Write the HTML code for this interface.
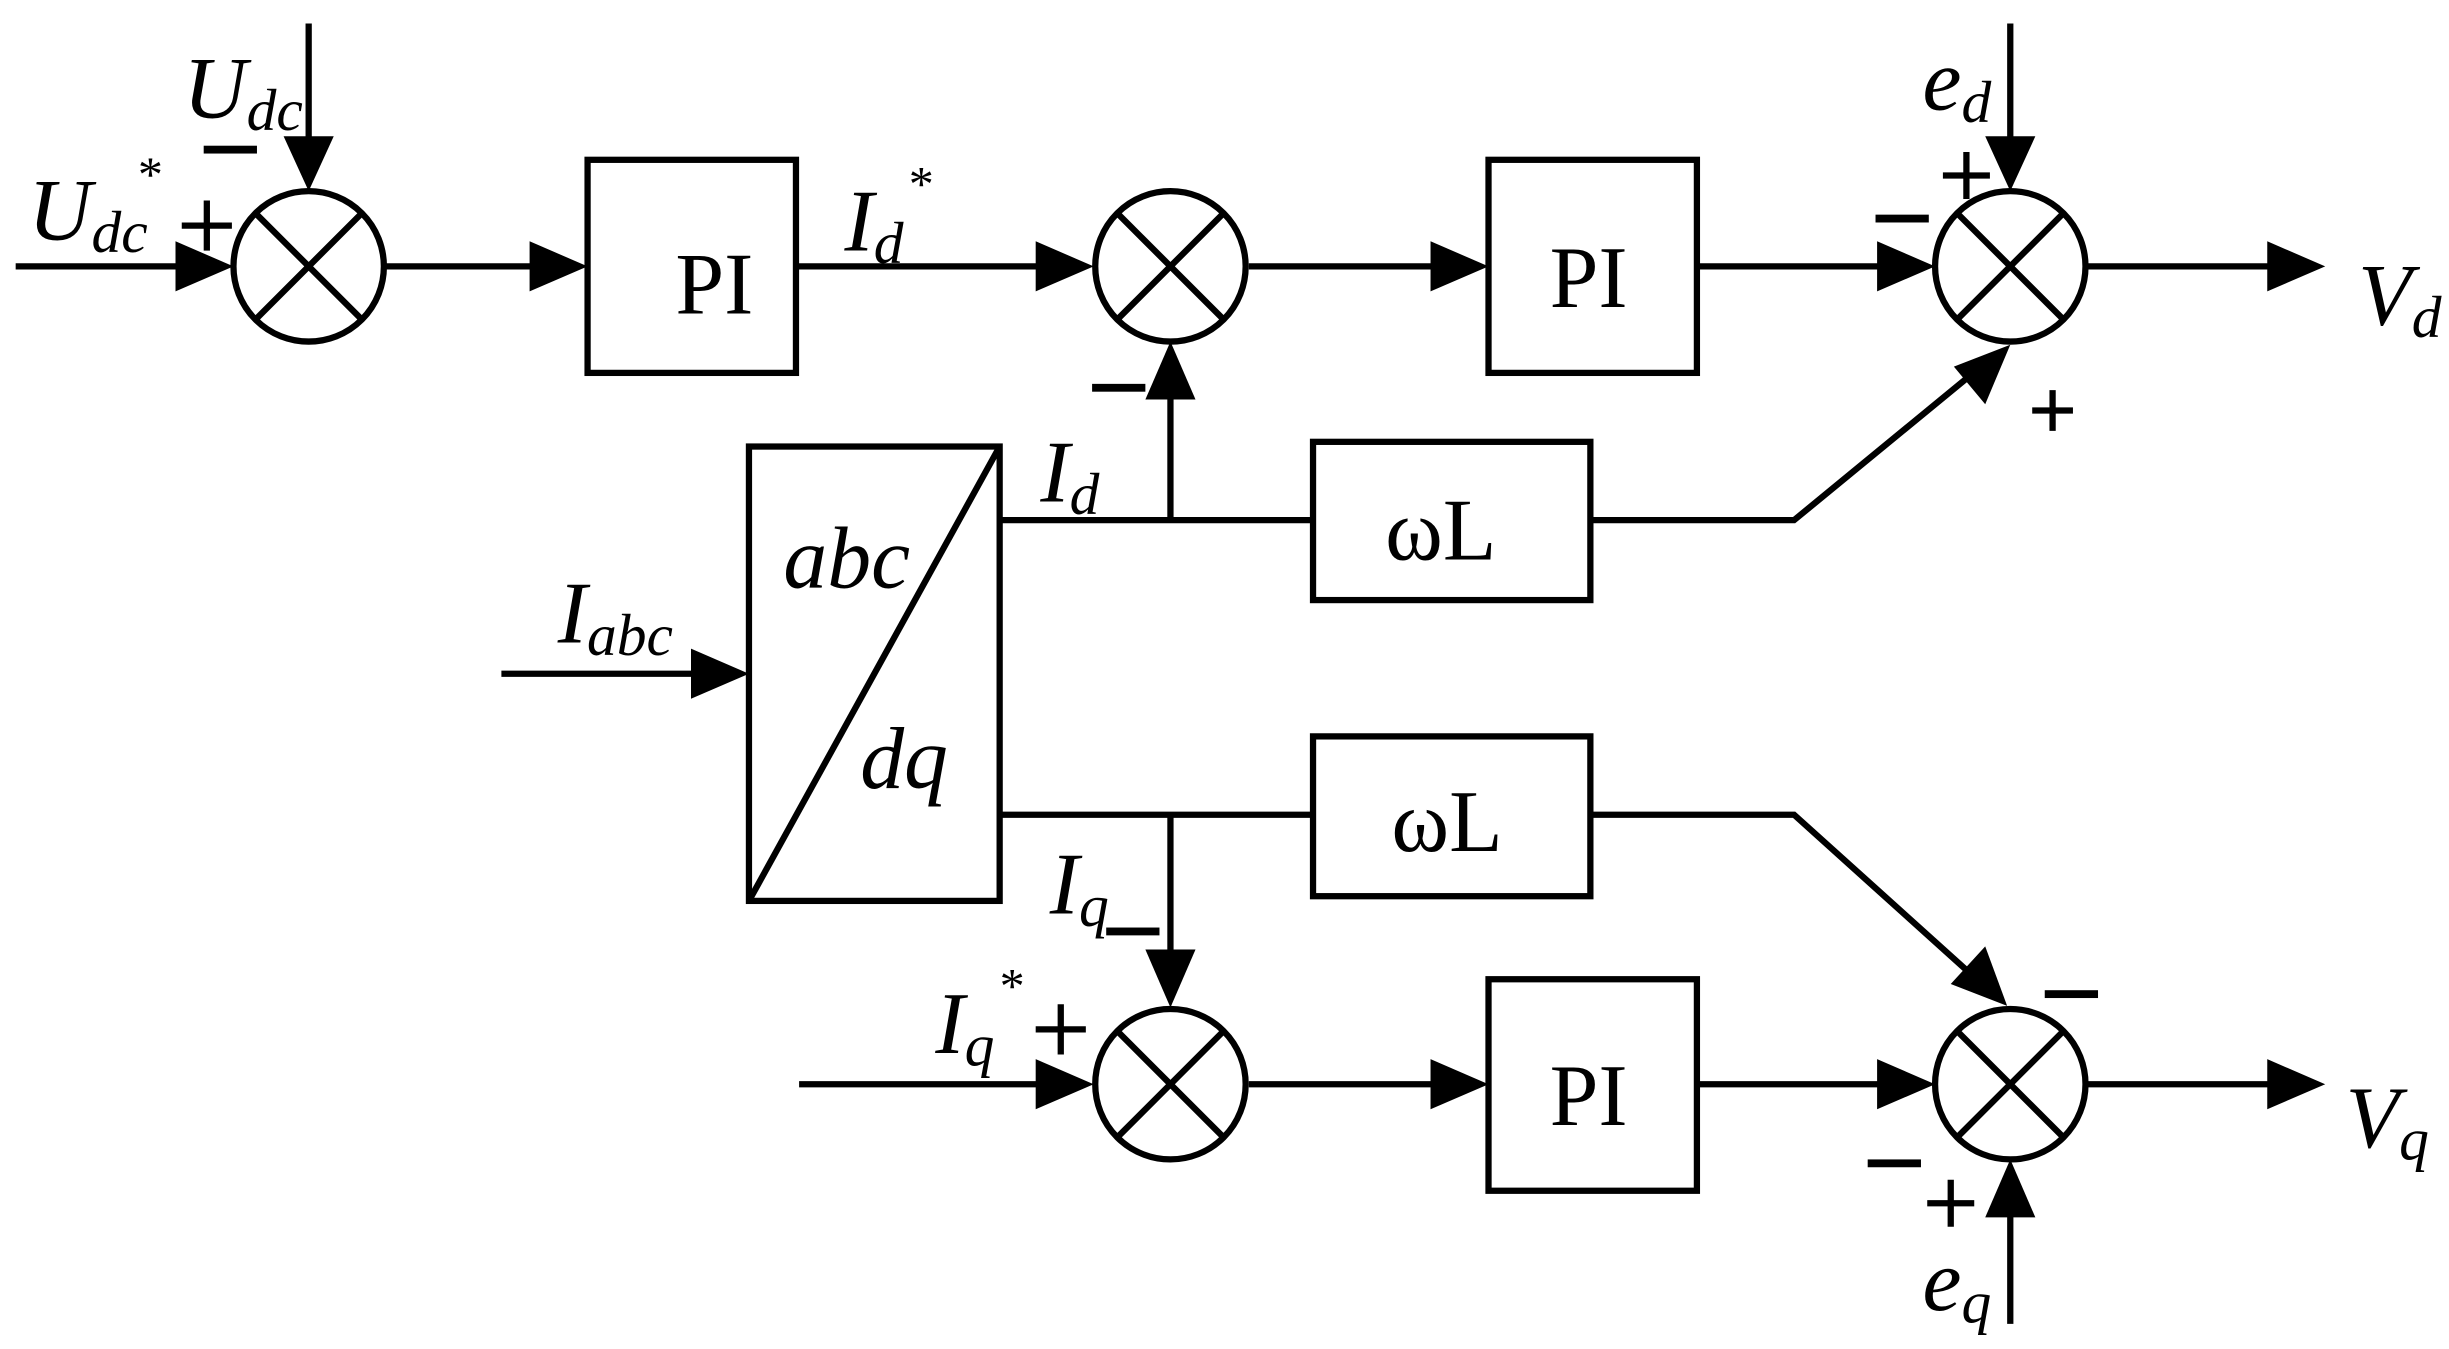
<!DOCTYPE html>
<html><head><meta charset="utf-8"><style>
html,body{margin:0;padding:0;background:#fff;}
svg{display:block;}
text{font-family:"Liberation Serif",serif;fill:#000;}
.i{font-style:italic;}
</style></head><body>
<svg width="2449" height="1349" viewBox="0 0 1563 861" preserveAspectRatio="none" xmlns="http://www.w3.org/2000/svg">
<g stroke="#000" stroke-width="4" fill="none">
<circle cx="197" cy="170" r="48"/>
<path d="M163,136 L231,204 M231,136 L163,204"/>
<circle cx="747" cy="170" r="48"/>
<path d="M713,136 L781,204 M781,136 L713,204"/>
<circle cx="1283" cy="170" r="48"/>
<path d="M1249,136 L1317,204 M1317,136 L1249,204"/>
<circle cx="747" cy="692" r="48"/>
<path d="M713,658 L781,726 M781,658 L713,726"/>
<circle cx="1283" cy="692" r="48"/>
<path d="M1249,658 L1317,726 M1317,658 L1249,726"/>
<rect x="375" y="102" width="133" height="136"/>
<rect x="950" y="102" width="133" height="136"/>
<rect x="950" y="625" width="133" height="135"/>
<rect x="478" y="285" width="160" height="290"/>
<path d="M478,575 L638,285"/>
<rect x="838" y="282" width="177" height="101"/>
<rect x="838" y="470" width="177" height="102"/>
<path d="M197,15 L197,95"/>
<path d="M10,170 L115,170"/>
<path d="M245,170 L342,170"/>
<path d="M508,170 L665,170"/>
<path d="M797,170 L917,170"/>
<path d="M1083,170 L1202,170"/>
<path d="M1331,170 L1450,170"/>
<path d="M1283,15 L1283,95"/>
<path d="M320,430 L445,430"/>
<path d="M638,332 L838,332"/>
<path d="M747,332 L747,252"/>
<path d="M1015,332 L1145,332 L1257,240"/>
<path d="M638,520 L838,520"/>
<path d="M747,520 L747,610"/>
<path d="M1015,520 L1145,520 L1256,620"/>
<path d="M510,692 L665,692"/>
<path d="M797,692 L917,692"/>
<path d="M1083,692 L1202,692"/>
<path d="M1331,692 L1450,692"/>
<path d="M1283,845 L1283,772"/>
<!-- plus signs -->
<path d="M116,144 L148,144 M132,128 L132,160"/>
<path d="M1240,112 L1270,112 M1255,97 L1255,127"/>
<path d="M1297,262 L1323,262 M1310,249 L1310,275"/>
<path d="M661,657 L693,657 M677,641 L677,673"/>
<path d="M1230,768 L1260,768 M1245,753 L1245,783"/>
</g>
<g fill="#000">
<polygon points="197,122 181,87 213,87"/>
<polygon points="149,170 112,154 112,186"/>
<polygon points="375,170 338,154 338,186"/>
<polygon points="698,170 661,154 661,186"/>
<polygon points="950,170 913,154 913,186"/>
<polygon points="1235,170 1198,154 1198,186"/>
<polygon points="1484,170 1447,154 1447,186"/>
<polygon points="1283,122 1267,87 1299,87"/>
<polygon points="478,430 441,414 441,446"/>
<polygon points="747,218 731,255 763,255"/>
<polygon points="1283,220 1247,234 1267,258"/>
<polygon points="747,643 731,606 763,606"/>
<polygon points="1281,642 1245,628 1267,604"/>
<polygon points="698,692 661,676 661,708"/>
<polygon points="950,692 913,676 913,708"/>
<polygon points="1235,692 1198,676 1198,708"/>
<polygon points="1484,692 1447,676 1447,708"/>
<polygon points="1283,740 1267,777 1299,777"/>
<rect x="130" y="93" width="34" height="5"/>
<rect x="1197" y="137" width="34" height="5"/>
<rect x="697" y="245" width="34" height="5"/>
<rect x="706" y="592" width="34" height="5"/>
<rect x="1305" y="632" width="34" height="5"/>
<rect x="1192" y="740" width="34" height="5"/>
</g>
<g font-size="56">
<text x="431" y="200">PI</text>
<text x="989" y="196">PI</text>
<text x="989" y="718">PI</text>
<text x="884" y="357">ωL</text>
<text x="888" y="543">ωL</text>
<text class="i" x="500" y="375">abc</text>
<text class="i" x="549" y="503">dq</text>
<text class="i" x="117" y="75">U<tspan font-size="38" dy="8">dc</tspan></text>
<text class="i" x="18" y="153">U<tspan font-size="38" dy="8">dc</tspan></text>
<text class="i" x="539" y="160">I<tspan font-size="38" dy="8">d</tspan></text>
<text class="i" x="664" y="320">I<tspan font-size="38" dy="8">d</tspan></text>
<text class="i" x="356" y="410">I<tspan font-size="38" dy="8">abc</tspan></text>
<text class="i" x="670" y="583">I<tspan font-size="38" dy="8">q</tspan></text>
<text class="i" x="597" y="672">I<tspan font-size="38" dy="8">q</tspan></text>
<text class="i" x="1227" y="70">e<tspan font-size="38" dy="8">d</tspan></text>
<text class="i" x="1227" y="836">e<tspan font-size="38" dy="8">q</tspan></text>
<text class="i" x="1505" y="207">V<tspan font-size="38" dy="8">d</tspan></text>
<text class="i" x="1497" y="732">V<tspan font-size="38" dy="8">q</tspan></text>
</g>
<g font-size="32">
<text x="88" y="122">*</text>
<text x="580" y="128">*</text>
<text x="638" y="640">*</text>
</g>
</svg>
</body></html>
